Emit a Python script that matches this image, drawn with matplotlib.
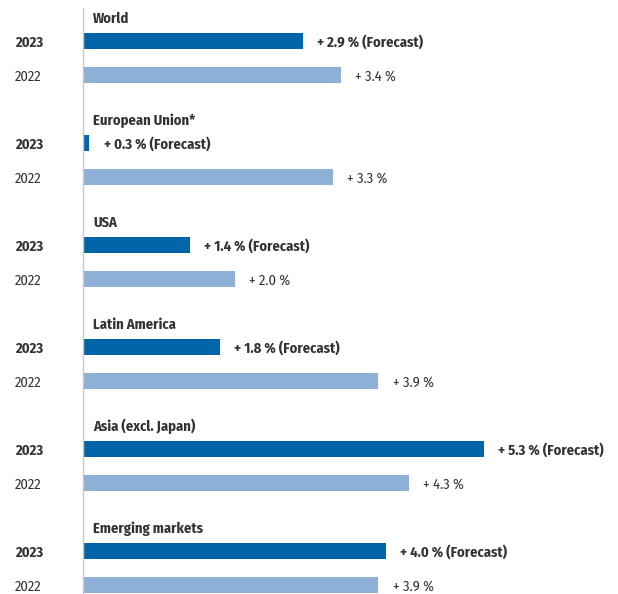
import matplotlib
matplotlib.use("Agg")
import matplotlib.pyplot as plt
from matplotlib.transforms import blended_transform_factory

regions = ["World", "European Union*", "USA", "Latin America", "Asia (excl. Japan)", "Emerging markets"]
# growth values shown in the labels
values_2023 = [2.9, 0.3, 1.4, 1.8, 5.3, 4.0]
values_2022 = [3.4, 3.3, 2.0, 3.9, 4.3, 3.9]
# bar lengths as drawn in the reference (the EU 2023 bar is drawn shorter than its label)
bars_2023 = [2.9, 0.07, 1.4, 1.8, 5.3, 4.0]
bars_2022 = [3.4, 3.3, 2.0, 3.9, 4.3, 3.9]
year_labels = ["2023", "2022"]

plt.rcParams['font.family'] = ['Fira Sans Condensed', 'DejaVu Sans']

W, H = 618, 594
fig = plt.figure(figsize=(W / 100, H / 100), dpi=100)
x0 = 84
px_per_unit = 75.5
ax = fig.add_axes([x0 / W, 0, (W - x0) / W, 1])
ax.set_xlim(0, (W - x0) / px_per_unit)
ax.set_ylim(H, 0)
ax.axis('off')

dark = '#0066a8'
light = '#8eb0d6'
txt = '#333333'
step = 102
bar_h = 16
fs = 10.5

fig_tr = blended_transform_factory(fig.transFigure, ax.transData)

for i, name in enumerate(regions):
    yt = 17 + step * i
    y23 = 41 + step * i
    y22 = 75 + step * i
    ax.text(0.12, yt, name, fontsize=fs, fontweight='bold', color=txt,
            ha='left', va='center_baseline')
    ax.barh(y23, bars_2023[i], height=bar_h, color=dark, left=0)
    ax.barh(y22, bars_2022[i], height=bar_h, color=light, left=0)
    ax.text(bars_2023[i] + 0.19, y23, f"+ {values_2023[i]:.1f} % (Forecast)",
            fontsize=fs, fontweight='bold', color=txt, ha='left', va='center_baseline')
    ax.text(bars_2022[i] + 0.19, y22, f"+ {values_2022[i]:.1f} %",
            fontsize=fs, color=txt, ha='left', va='center_baseline')
    ax.text(15 / W, y23, year_labels[0], fontsize=fs, fontweight='bold',
            color=txt, ha='left', va='center_baseline', transform=fig_tr)
    ax.text(15 / W, y22, year_labels[1], fontsize=fs,
            color=txt, ha='left', va='center_baseline', transform=fig_tr)

ax.plot([-0.013, -0.013], [8, H], color='#c8c8c8', lw=1, clip_on=False)

fig.savefig("out.png", dpi=100)
